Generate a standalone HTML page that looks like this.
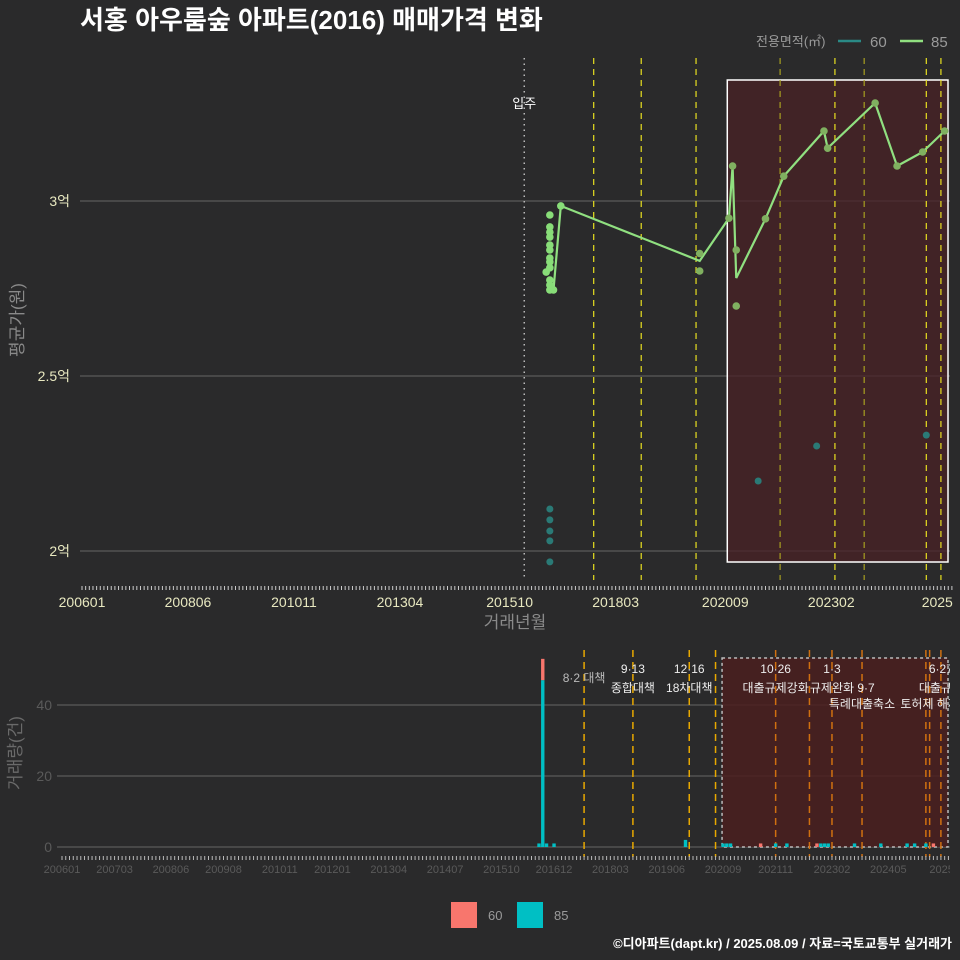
<!DOCTYPE html>
<html><head><meta charset="utf-8"><style>
body{margin:0;background:#2a2a2b;}
svg{display:block;font-family:"Liberation Sans","Noto Sans CJK KR",sans-serif;}
</style></head><body>
<svg id="c" width="960" height="960" viewBox="0 0 960 960">
<defs><clipPath id="clipB"><rect x="0" y="640" width="950" height="240"/></clipPath></defs>
<rect width="960" height="960" fill="#2a2a2b"/>
<text x="80" y="29" fill="#ffffff" font-size="26" font-weight="bold">서홍 아우룸숲 아파트(2016) 매매가격 변화</text>
<g id="gtop"></g><g id="gbot" clip-path="url(#clipB)"></g>
<g>
<text x="756" y="46" fill="#9a9a9a" font-size="13">전용면적(㎡)</text>
<line x1="838" y1="41" x2="861" y2="41" stroke="#2a8a86" stroke-width="2.5"/>
<text x="870" y="47" fill="#9a9a9a" font-size="15">60</text>
<line x1="900" y1="41" x2="923" y2="41" stroke="#90e080" stroke-width="2.5"/>
<text x="931" y="47" fill="#9a9a9a" font-size="15">85</text>
</g>
<g>
<rect x="451" y="902" width="26" height="26" fill="#f8766d"/>
<text x="488" y="920" fill="#9a9a9a" font-size="13">60</text>
<rect x="517" y="902" width="26" height="26" fill="#00bfc4"/>
<text x="554" y="920" fill="#9a9a9a" font-size="13">85</text>
</g>
<text x="952" y="948" text-anchor="end" fill="#ffffff" font-size="13" font-weight="bold">©디아파트(dapt.kr) / 2025.08.09 / 자료=국토교통부 실거래가</text>
</svg>
<script>
// ---- data ----
const lineMonths85 = ["201610","201612","202002","202010","202011","202012","202108","202201","202212","202301","202402","202408","202503","202509"];
const lineValues85 = [2.746,2.986,2.829,2.951,3.10,2.78,2.949,3.071,3.20,3.151,3.28,3.10,3.14,3.20];
const dotMonths85 = ["201609","201609","201609","201609","201609","201609","201609","201609","201609","201608","201609","201609","201609","201610","201612","202002","202002","202010","202011","202012","202012","202108","202201","202212","202301","202402","202408","202503","202509"];
const dotValues85 = [2.96,2.926,2.911,2.897,2.874,2.86,2.837,2.826,2.809,2.797,2.774,2.76,2.746,2.746,2.986,2.85,2.80,2.951,3.10,2.86,2.70,2.949,3.071,3.20,3.151,3.28,3.10,3.14,3.20];
const dotMonths60 = ["201609","201609","201609","201609","201609","202106","202210","202504"];
const dotValues60 = [2.12,2.089,2.057,2.029,1.969,2.20,2.30,2.331];
const yTicksTop = [2,2.5,3];
const yTickLabelsTop = ["2억","2.5억","3억"];
const xTickLabelsTop = ["200601","200806","201011","201304","201510","201803","202009","202302","2025"];
const volMonths = ["201608","201609","201610","201612","201911","202009","202010","202011","202107","202111","202202","202210","202211","202212","202301","202308","202403","202410","202412","202503","202505"];
const vol85 = [1,47,1,1,2,1,1,1,0,1,1,0,1,1,1,1,1,1,1,1,0];
const vol60 = [0,6,0,0,0,0,0,0,1,0,0,1,0,0,0,0,0,0,0,0,1];
const yTicksBot = [0,20,40];
const xTickLabelsBot = ["200601","200703","200806","200908","201011","201201","201304","201407","201510","201612","201803","201906","202009","202111","202302","202405","20250"];
const eventMonths = ["201708","201809","201912","202111","202302","202310","202503","202507"];
const extraEventMonths = ["202007","202208","202504"];
const eventTop1 = ["8·2 대책","9·13","12·16","10·26","1·3","","","6·27"];
const eventTop2 = ["","종합대책","18차대책","대출규제강화","규제완화","9·7","","대출규제"];
// ---- helpers ----
const NS="http://www.w3.org/2000/svg";
function mi(s){return (parseInt(s.slice(0,4))-2006)*12+parseInt(s.slice(4,6)||"1")-1;}
function mk(p,t,a){const e=document.createElementNS(NS,t);for(const k in a)e.setAttribute(k,a[k]);p.appendChild(e);return e;}
const xT=m=>82+3.655*m, yT=v=>201+(3-v)*350;
const xB=m=>62+3.756*m, yB=v=>847-v*3.55;
const gTop=document.getElementById('gtop'), gBot=document.getElementById('gbot');
// ---- top panel ----
yTicksTop.forEach((v,i)=>{
 let l=mk(gTop,'line',{x1:80,x2:950,y1:yT(v),y2:yT(v),stroke:'#5a5a5a','stroke-width':1.2});
 
 
 let t=mk(gTop,'text',{x:70,y:yT(v)+5,'text-anchor':'end',fill:'#e8e8c0','font-size':14});t.textContent=yTickLabelsTop[i];
 
 
});
let rs=mk(gTop,'rect',{x:xT(mi("202009"))+2,y:80,width:948-xT(mi("202009"))-2,height:482,fill:'#4a2226','fill-opacity':0.75,stroke:'#ffffff','stroke-width':1.5});


let mv=mk(gTop,'line',{x1:xT(mi("201602")),x2:xT(mi("201602")),y1:58,y2:580,stroke:'#bbbbbb','stroke-width':1.5,'stroke-dasharray':'1.5 4'});


let mvt=mk(gTop,'text',{x:xT(mi("201602")),y:108,'text-anchor':'middle',fill:'#ffffff','font-size':13});mvt.textContent='입주';


eventMonths.forEach((m,i)=>{
 let l=mk(gTop,'line',{x1:xT(mi(m)+1),x2:xT(mi(m)+1),y1:58,y2:580,stroke:(i===3||i===5)?'#a8a020':'#e8e020','stroke-width':1.2,'stroke-dasharray':'6 5'});
 
 
});
dotMonths60.forEach((m,i)=>{
 let c=mk(gTop,'circle',{cx:xT(mi(m)),cy:yT(dotValues60[i]),r:3.5,fill:'#2a7a76'});
 
 
});
let pts=lineMonths85.map((m,i)=>xT(mi(m))+','+yT(lineValues85[i])).join(' ');
let pl=mk(gTop,'polyline',{points:pts,fill:'none',stroke:'#90e080','stroke-width':2.2});


dotMonths85.forEach((m,i)=>{
 let c=mk(gTop,'circle',{cx:xT(mi(m)),cy:yT(dotValues85[i]),r:3.8,fill:i<15?'#88dd78':'#80b060'});
 
 
});
for(let m=0;m<=238;m++){let l=mk(gTop,'line',{x1:xT(m),x2:xT(m),y1:586,y2:590,stroke:'#cccccc','stroke-width':1});}
xTickLabelsTop.forEach(s=>{
 let t=mk(gTop,'text',{x:xT(mi(s.length===4?s+"07":s)),y:607,'text-anchor':'middle',fill:'#e8e8c0','font-size':14});t.textContent=s;
 
 
});
let xt=mk(gTop,'text',{x:515,y:628,'text-anchor':'middle',fill:'#8a8a8a','font-size':17});xt.textContent='거래년월';

let yt=mk(gTop,'text',{x:0,y:0,'text-anchor':'middle',fill:'#8a8a8a','font-size':17,transform:'translate(23,320) rotate(-90)'});yt.textContent='평균가(원)';

// ---- bottom panel ----
yTicksBot.forEach(v=>{
 let l=mk(gBot,'line',{x1:57,x2:950,y1:yB(v),y2:yB(v),stroke:'#5a5a5a','stroke-width':1.2});
 
 let t=mk(gBot,'text',{x:52,y:yB(v)+5,'text-anchor':'end',fill:'#5a5a5a','font-size':14});t.textContent=v;
 
});
let rb=mk(gBot,'rect',{x:xB(mi("202009"))-1,y:658,width:948-xB(mi("202009"))+1,height:189,fill:'#4a1e1e','fill-opacity':0.85,stroke:'#bbbbbb','stroke-width':1.5,'stroke-dasharray':'3 3'});

eventMonths.concat(extraEventMonths).forEach(m=>{
 const mm=mi(m);
 let l=mk(gBot,'line',{x1:xB(mm),x2:xB(mm),y1:650,y2:857,stroke:mm>=176?'#d07010':'#e8a800','stroke-width':1.5,'stroke-dasharray':'7 5'});
 
});
volMonths.forEach((m,i)=>{
 const x=xB(mi(m))-1.7;
 if(vol85[i]>0){let r=mk(gBot,'rect',{x:x,y:yB(vol85[i]),width:3.4,height:vol85[i]*3.55,fill:'#00bfc4'});}
 if(vol60[i]>0){let r=mk(gBot,'rect',{x:x,y:yB(vol85[i]+vol60[i]),width:3.4,height:vol60[i]*3.55,fill:'#f8766d'});}
});
eventMonths.forEach((m,i)=>{
 const x=xB(mi(m));
 if(eventTop1[i]){let t=mk(gBot,'text',{x:x,y:i===0?682:673,'text-anchor':'middle',fill:i===0?'#bbbbbb':'#eeeeee','font-size':12});t.textContent=eventTop1[i];}
 if(eventTop2[i]){let t=mk(gBot,'text',{x:i===5?x+4:x,y:692,'text-anchor':'middle',fill:'#eeeeee','font-size':12});t.textContent=eventTop2[i];}
});
let t3=mk(gBot,'text',{x:xB(mi("202310")),y:708,'text-anchor':'middle',fill:'#eeeeee','font-size':12});t3.textContent='특례대출축소';

let t4=mk(gBot,'text',{x:xB(mi("202504")),y:708,'text-anchor':'middle',fill:'#eeeeee','font-size':12});t4.textContent='토허제 해제';

for(let m=0;m<=236;m++){let l=mk(gBot,'line',{x1:xB(m),x2:xB(m),y1:856,y2:860,stroke:'#bbbbbb','stroke-width':1});}
xTickLabelsBot.forEach(s=>{
 let t=mk(gBot,'text',{x:xB(mi(s.length<6?"202508":s)),y:873,'text-anchor':'middle',fill:'#5a5a5a','font-size':11});t.textContent=s;
 
});
let yb=mk(document.getElementById('c'),'text',{x:0,y:0,'text-anchor':'middle',fill:'#6a6a6a','font-size':17,transform:'translate(21,753) rotate(-90)'});yb.textContent='거래량(건)';

</script>
</body></html>
